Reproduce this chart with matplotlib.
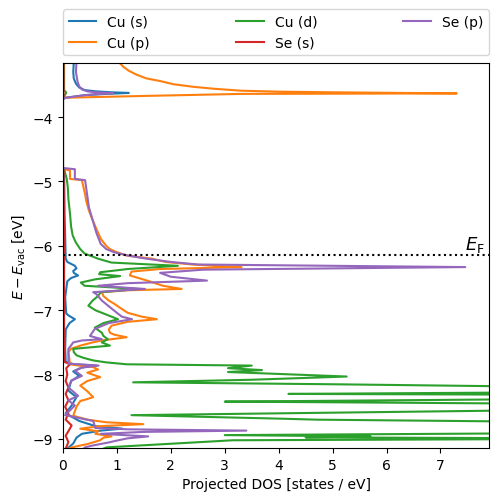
import matplotlib
matplotlib.use("Agg")
import matplotlib.pyplot as plt

# ---- data: (energy [eV], projected DOS [states/eV]) ----
cu_s_E = [-9.15, -9.07, -8.98, -8.92, -8.87, -8.84, -8.80, -8.72, -8.60, -8.48, -8.35, -8.25, -8.10, -8.02,
          -7.95, -7.89, -7.86, -7.84, -7.80, -7.60, -7.30, -7.20, -7.14, -7.08, -7.05, -6.80, -6.55,
          -6.50, -6.46, -6.42, -6.39, -6.35, -6.31, -6.25, -6.20, -5.50, -4.80, -4.78, -3.72, -3.70,
          -3.66, -3.64, -3.625, -3.615, -3.60, -3.58, -3.54, -3.48, -3.40, -3.30, -3.15]
cu_s_D = [0.08, 0.19, 0.25, 0.35, 0.70, 1.10, 0.60, 0.30, 0.05, 0.16, 0.25, 0.10, 0.15, 0.30,
          0.19, 0.35, 0.62, 0.20, 0.05, 0.04, 0.05, 0.12, 0.22, 0.10, 0.06, 0.04, 0.08,
          0.15, 0.28, 0.20, 0.19, 0.25, 0.22, 0.08, 0.05, 0.03, 0.02, 0.0, 0.0, 0.05,
          0.40, 0.80, 1.22, 0.90, 0.60, 0.40, 0.30, 0.24, 0.20, 0.19, 0.20]

cu_p_E = [-9.15, -9.13, -9.08, -9.02, -8.98, -8.96, -8.92, -8.88, -8.84, -8.80, -8.77, -8.74, -8.70,
          -8.64, -8.50, -8.41, -8.38, -8.35, -8.30, -8.25, -8.17, -8.10, -8.04, -8.00, -7.97, -7.92,
          -7.88, -7.86, -7.84, -7.65, -7.60, -7.55, -7.50, -7.47, -7.42, -7.38, -7.35, -7.30, -7.24,
          -7.18, -7.14, -7.10, -7.04, -6.98, -6.90, -6.85, -6.78, -6.72, -6.69, -6.67, -6.62, -6.55,
          -6.50, -6.46, -6.40, -6.36, -6.33, -6.29, -6.25, -6.20, -6.15, -6.10, -6.05, -6.00, -5.89,
          -5.74, -5.60, -5.45, -5.30, -5.20, -4.98, -4.96, -4.83, -4.81, -4.79, -3.72, -3.70, -3.67,
          -3.64, -3.632, -3.625, -3.615, -3.605, -3.59, -3.56, -3.53, -3.49, -3.44, -3.40, -3.34,
          -3.28, -3.22, -3.15]
cu_p_D = [0.10, 0.16, 0.45, 0.69, 0.75, 0.90, 0.60, 0.65, 0.32, 0.70, 1.49, 0.80, 0.45,
          0.19, 0.25, 0.32, 0.45, 0.56, 0.50, 0.44, 0.32, 0.45, 0.69, 0.55, 0.45, 0.65,
          0.55, 0.30, 0.13, 0.10, 0.15, 0.32, 0.55, 0.72, 1.18, 0.95, 0.87, 0.85, 0.90,
          1.20, 1.74, 1.46, 1.20, 1.09, 0.95, 0.85, 0.75, 0.72, 1.20, 2.20, 1.85, 1.60,
          1.40, 1.24, 1.27, 1.80, 3.31, 2.40, 1.90, 1.65, 1.18, 1.00, 0.87, 0.80, 0.70,
          0.62, 0.55, 0.48, 0.43, 0.41, 0.35, 0.13, 0.13, 0.04, 0.0, 0.0, 0.0, 1.60,
          3.30, 7.30, 6.30, 5.00, 4.00, 3.30, 2.80, 2.42, 2.05, 1.80, 1.55, 1.36,
          1.22, 1.12, 1.04]

cu_d_E = [-9.15, -9.13, -9.02, -8.995, -8.975, -8.96, -8.94, -8.90, -8.87, -8.84, -8.80, -8.77, -8.73,
          -8.70, -8.685, -8.63, -8.55, -8.47, -8.43, -8.42, -8.36, -8.31, -8.30, -8.27, -8.22, -8.15,
          -8.12, -8.08, -8.03, -7.96, -7.93, -7.90, -7.86, -7.84, -7.81, -7.78, -7.74, -7.70, -7.65,
          -7.60, -7.57, -7.55, -7.50, -7.45, -7.40, -7.35, -7.27, -7.20, -7.14, -7.10, -7.06, -7.00,
          -6.93, -6.85, -6.78, -6.72, -6.67, -6.62, -6.57, -6.52, -6.47, -6.44, -6.41, -6.38, -6.36,
          -6.31, -6.26, -6.20, -6.17, -6.12, -6.05, -5.95, -5.84, -5.70, -5.50, -5.27, -5.10, -4.96,
          -4.81, -4.79, -3.72, -3.68, -3.62, -3.58, -3.15]
cu_d_D = [0.75, 0.81, 3.15, 11.0, 4.50, 5.70, 3.00, 11.0, 8.50, 12.0, 9.00, 12.0, 8.50,
          4.70, 4.06, 1.27, 9.00, 12.0, 5.00, 3.00, 12.0, 8.00, 4.18, 10.0, 12.0, 5.00,
          1.30, 3.50, 5.26, 3.06, 3.69, 3.06, 3.50, 1.18, 0.80, 0.56, 0.38, 0.25, 0.20,
          0.19, 0.60, 0.87, 0.72, 0.83, 0.75, 0.72, 0.59, 0.75, 1.02, 0.90, 0.78, 0.60,
          0.47, 0.55, 0.65, 0.70, 1.40, 0.40, 0.33, 0.60, 1.06, 0.67, 0.69, 1.00, 1.20,
          2.13, 0.90, 0.65, 0.56, 0.40, 0.32, 0.24, 0.18, 0.15, 0.13, 0.10, 0.09, 0.07,
          0.02, 0.0, 0.0, 0.02, 0.06, 0.02, 0.02]

se_s_E = [-9.15, -9.05, -8.95, -8.85, -8.79, -8.70, -8.60, -8.50, -8.40, -8.30, -8.20, -8.10, -8.00,
          -7.90, -7.84, -7.80, -7.50, -6.00, -4.80, -4.78, -3.72, -3.68, -3.15]
se_s_D = [0.05, 0.10, 0.05, 0.12, 0.16, 0.05, 0.10, 0.04, 0.10, 0.05, 0.10, 0.05, 0.08,
          0.06, 0.13, 0.02, 0.02, 0.02, 0.01, 0.0, 0.0, 0.01, 0.01]

se_p_E = [-9.15, -9.13, -9.10, -9.05, -9.03, -8.99, -8.96, -8.92, -8.89, -8.87, -8.85, -8.83, -8.72,
          -8.63, -8.48, -8.40, -8.33, -8.20, -8.09, -8.02, -7.94, -7.89, -7.86, -7.83, -7.60, -7.57,
          -7.50, -7.47, -7.45, -7.40, -7.29, -7.20, -7.14, -7.10, -6.98, -6.85, -6.75, -6.72, -6.67,
          -6.62, -6.58, -6.54, -6.48, -6.42, -6.37, -6.33, -6.29, -6.25, -6.20, -6.15, -6.10, -6.05,
          -5.97, -5.80, -5.63, -5.40, -5.22, -4.98, -4.96, -4.81, -4.79, -3.72, -3.70, -3.66, -3.645,
          -3.63, -3.615, -3.60, -3.57, -3.52, -3.45, -3.30, -3.15]
se_p_D = [0.38, 0.41, 0.56, 0.87, 0.97, 1.20, 1.58, 0.70, 1.50, 3.40, 1.20, 0.60, 0.56,
          0.04, 0.22, 0.10, 0.28, 0.10, 0.16, 0.35, 0.22, 0.35, 0.66, 0.10, 0.10, 0.13,
          0.19, 0.35, 0.72, 0.50, 0.59, 0.85, 1.28, 1.09, 0.91, 0.72, 0.62, 0.56, 1.52,
          0.65, 1.20, 2.67, 2.00, 1.80, 2.60, 7.46, 2.50, 2.00, 1.55, 1.20, 0.95, 0.80,
          0.70, 0.62, 0.56, 0.48, 0.45, 0.41, 0.22, 0.22, 0.0, 0.0, 0.05, 0.40, 0.60,
          0.93, 0.60, 0.45, 0.35, 0.30, 0.27, 0.24, 0.25]

labels = ["Cu (s)", "Cu (p)", "Cu (d)", "Se (s)", "Se (p)"]
colors = ["#1f77b4", "#ff7f0e", "#2ca02c", "#d62728", "#9467bd"]
E_F = -6.14

fig = plt.figure(figsize=(4.98, 5.02), dpi=100)
ax = fig.add_axes([0.1265, 0.1056, 0.8555, 0.7669])

series = [(cu_s_E, cu_s_D), (cu_p_E, cu_p_D), (cu_d_E, cu_d_D), (se_s_E, se_s_D), (se_p_E, se_p_D)]
for (E, D), lab, c in zip(series, labels, colors):
    ax.plot(D, E, color=c, lw=1.5, label=lab)

ax.axhline(E_F, color="k", ls=":", lw=1.5)
ax.text(7.82, E_F + 0.02, r"$E_\mathrm{F}$", ha="right", va="bottom", fontsize=13)

ax.set_xlim(0, 7.9)
ax.set_ylim(-9.14, -3.16)
ax.set_xlabel("Projected DOS [states / eV]")
ax.set_ylabel(r"$E - E_\mathrm{vac}$ [eV]")

ax.legend(loc="lower left", bbox_to_anchor=(0, 1.02, 1, 0.102), mode="expand",
          ncol=3, borderaxespad=0)

fig.savefig("out.png", dpi=100)
